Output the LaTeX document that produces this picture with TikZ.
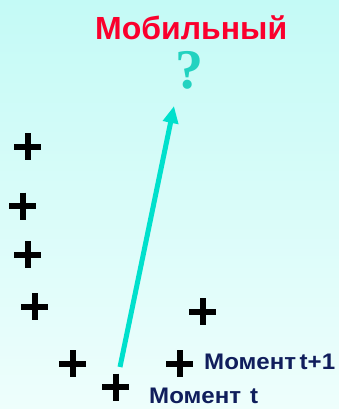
\documentclass[tikz,border=0pt]{standalone}
\usepackage{fontspec}
\setmainfont{Liberation Sans}
\newfontfamily\qmarkfont{Liberation Serif}
\newfontfamily\momentfont{Liberation Sans}[FakeStretch=1.07]
\usepackage{xcolor}
\usetikzlibrary{arrows.meta,positioning}

\definecolor{bgtop}{RGB}{196,250,246}
\definecolor{bgbottom}{RGB}{238,254,252}
\definecolor{titlered}{RGB}{250,0,45}
\definecolor{momentblue}{RGB}{16,30,92}
\definecolor{qteal}{RGB}{34,210,192}
\definecolor{arrowteal}{RGB}{0,224,204}

\tikzset{
  plusmark/.style={minimum size=27pt, inner sep=0pt,
    path picture={\draw[line width=6pt]
      (path picture bounding box.north) -- (path picture bounding box.south)
      (path picture bounding box.west) -- (path picture bounding box.east);}},
  momenttext/.style={anchor=base west, inner sep=0pt, text=momentblue,
    font=\momentfont\bfseries\fontsize{22.5}{22.5}\selectfont},
}

\begin{document}
\begin{tikzpicture}[x=1pt, y=-1pt]
  % background
  \shade[top color=bgtop, bottom color=bgbottom] (0,0) rectangle (339,409);
  \useasboundingbox (0,0) rectangle (339,409);

  % title and question mark
  \node[anchor=base west, inner sep=0pt, text=titlered,
    font=\bfseries\fontsize{32}{32}\selectfont] (title) at (95,40) {Мобильный};
  \node[anchor=base, inner sep=0pt, text=qteal,
    font=\qmarkfont\bfseries\fontsize{56}{56}\selectfont] (qmark) at (189.5,89) {?};

  % positions
  \node[plusmark] (p1) at (27.5,146.5) {};
  \node[plusmark] (p2) at (22.5,206) {};
  \node[plusmark] (p3) at (27.5,254.5) {};
  \node[plusmark] (p4) at (34.5,306.5) {};
  \node[plusmark] (p5) at (202.5,311.5) {};
  \node[plusmark] (p6) at (72.5,363.5) {};
  \node[plusmark] (p7) at (179.5,363.5) {};
  \node[plusmark] (p8) at (115.5,387) {};

  \node[momenttext] (tnext) at (204,369) {Момент\kern3.5pt t+1};
  \node[momenttext] (tnow) at (149,403) {Момент\kern9pt t};

  % movement
  \coordinate (tail) at (120,367);
  \coordinate (tip) at (174,106);
  \draw[arrowteal, line width=5pt, -{Triangle[length=17pt, width=15pt]}]
    (tail) -- (tip);
\end{tikzpicture}
\end{document}
